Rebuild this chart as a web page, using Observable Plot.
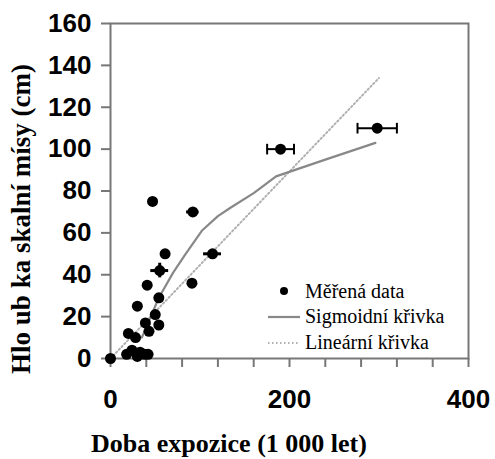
<!DOCTYPE html>
<html>
<head>
<meta charset="utf-8">
<script src="https://cdn.jsdelivr.net/npm/d3@7"></script>
<script src="https://cdn.jsdelivr.net/npm/@observablehq/plot@0.6"></script>
<style>
  html, body { margin: 0; padding: 0; background: white; }
  #wrap { position: relative; width: 495px; height: 459px; }
  #legend { position: absolute; left: 0; top: 0; pointer-events: none; }
</style>
</head>
<body>
<div id="wrap"></div>
<script>
// Measured data (exposure time in 1000 years, depth in cm)
const dataX = [0, 18, 24, 30, 33, 38, 42, 20, 28, 43, 39, 54, 50, 54, 30, 41, 55, 61, 47, 92, 91, 114, 190, 298];
const dataY = [0, 2, 4, 1, 3, 2, 2, 12, 10, 13, 17, 16, 21, 29, 25, 35, 42, 50, 75, 70, 36, 50, 100, 110];

// Horizontal error bars without caps
const errY  = [42, 70, 50];
const errLo = [45, 85, 104];
const errHi = [65, 99, 124];
// Horizontal error bars with caps
const capY  = [100, 110];
const capLo = [175, 276];
const capHi = [205, 320];
// Vertical error bar
const vErrX = [55];
const vErrLo = [38.5];
const vErrHi = [45.5];

// Sigmoid fit curve
const sigX = [35, 40, 54, 70, 84, 102, 120, 134, 160, 185, 240, 296];
const sigY = [10, 15, 29, 41, 50, 61, 68, 72, 79, 87, 95, 103];

// Linear fit
const linX = [0, 300];
const linY = [0, 134];

const xTicks = [0, 40, 80, 120, 160, 200, 240, 280, 320, 360, 400];
const xLabelTicks = [0, 200, 400];
const yTicks = [0, 20, 40, 60, 80, 100, 120, 140, 160];

const xTitle = "Doba expozice (1 000 let)";
const yTitle = "Hlo ub ka skalní mísy (cm)";
const legendLabels = ["Měřená data", "Sigmoidní křivka", "Lineární křivka"];

const points = dataX.map((x, i) => ({x, y: dataY[i]}));
const errs = errY.map((y, i) => ({y, lo: errLo[i], hi: errHi[i]}));
const caps = capY.map((y, i) => ({y, lo: capLo[i], hi: capHi[i]}));
const vErrs = vErrX.map((x, i) => ({x, lo: vErrLo[i], hi: vErrHi[i]}));
const sig = sigX.map((x, i) => ({x, y: sigY[i]}));
const lin = linX.map((x, i) => ({x, y: linY[i]}));

const vbar = { draw(ctx, size) { const h = Math.sqrt(size); ctx.moveTo(0, -h); ctx.lineTo(0, h); } };

const tickFont = {fontFamily: "'Liberation Sans', Arial, sans-serif", fontWeight: "bold", fontSize: 26};
const serif = "'Liberation Serif', 'DejaVu Serif', serif";

const chart = Plot.plot({
  width: 495,
  height: 459,
  marginLeft: 110,
  marginRight: 27,
  marginTop: 23,
  marginBottom: 101,
  style: {background: "white", color: "black"},
  x: {domain: [0, 400]},
  y: {domain: [0, 160]},
  marks: [
    Plot.axisX({ticks: xTicks, tickFormat: d => xLabelTicks.includes(d) ? String(d) : "",
      tickSize: 9, tickPadding: 22, stroke: "#777", strokeWidth: 2, fill: "black", label: null, ...tickFont}),
    Plot.axisY({ticks: yTicks, tickSize: 9, tickPadding: 10, stroke: "#777", strokeWidth: 2,
      fill: "black", label: null, ...tickFont}),
    Plot.frame({stroke: "#777", strokeWidth: 2}),
    Plot.line(lin, {x: "x", y: "y", stroke: "#b0b0b0", strokeWidth: 2, strokeDasharray: "1.5,2.5"}),
    Plot.line(sig, {x: "x", y: "y", stroke: "#888", strokeWidth: 2.2}),
    Plot.ruleY(errs, {y: "y", x1: "lo", x2: "hi", stroke: "black", strokeWidth: 3}),
    Plot.ruleY(caps, {y: "y", x1: "lo", x2: "hi", stroke: "black", strokeWidth: 2}),
    Plot.dot(caps, {x: "lo", y: "y", symbol: vbar, r: 3, stroke: "black", strokeWidth: 2}),
    Plot.dot(caps, {x: "hi", y: "y", symbol: vbar, r: 3, stroke: "black", strokeWidth: 2}),
    Plot.ruleX(vErrs, {x: "x", y1: "lo", y2: "hi", stroke: "black", strokeWidth: 3}),
    Plot.dot(points, {x: "x", y: "y", r: 5.5, fill: "black", stroke: "none"})
  ]
});

const wrap = document.getElementById("wrap");
wrap.appendChild(chart);

// Overlay: legend and axis titles
const lg = d3.select(wrap).append("svg").attr("id", "legend").attr("width", 495).attr("height", 459);
const lx = 268, tx = 305;
const rows = [291, 316, 342];
lg.append("circle").attr("cx", 284).attr("cy", rows[0]).attr("r", 4).attr("fill", "black");
lg.append("line").attr("x1", lx).attr("x2", 300).attr("y1", rows[1] + 1).attr("y2", rows[1] + 1)
  .attr("stroke", "#888").attr("stroke-width", 2.2);
lg.append("line").attr("x1", lx).attr("x2", 300).attr("y1", rows[2] + 1).attr("y2", rows[2] + 1)
  .attr("stroke", "#b0b0b0").attr("stroke-width", 2).attr("stroke-dasharray", "1.5,2.5");
legendLabels.forEach((t, i) => {
  lg.append("text").attr("x", tx).attr("y", rows[i]).attr("dy", "0.35em")
    .attr("font-family", serif).attr("font-size", 20).attr("fill", "black").text(t);
});
lg.append("text").attr("transform", "translate(21,219) rotate(-90)")
  .attr("text-anchor", "middle").attr("dy", "0.35em")
  .attr("font-family", serif).attr("font-weight", "bold").attr("font-size", 27)
  .attr("fill", "black").text(yTitle);
lg.append("text").attr("x", 229).attr("y", 443)
  .attr("text-anchor", "middle").attr("dy", "0.35em")
  .attr("font-family", serif).attr("font-weight", "bold").attr("font-size", 26)
  .attr("fill", "black").text(xTitle);
</script>
</body>
</html>
